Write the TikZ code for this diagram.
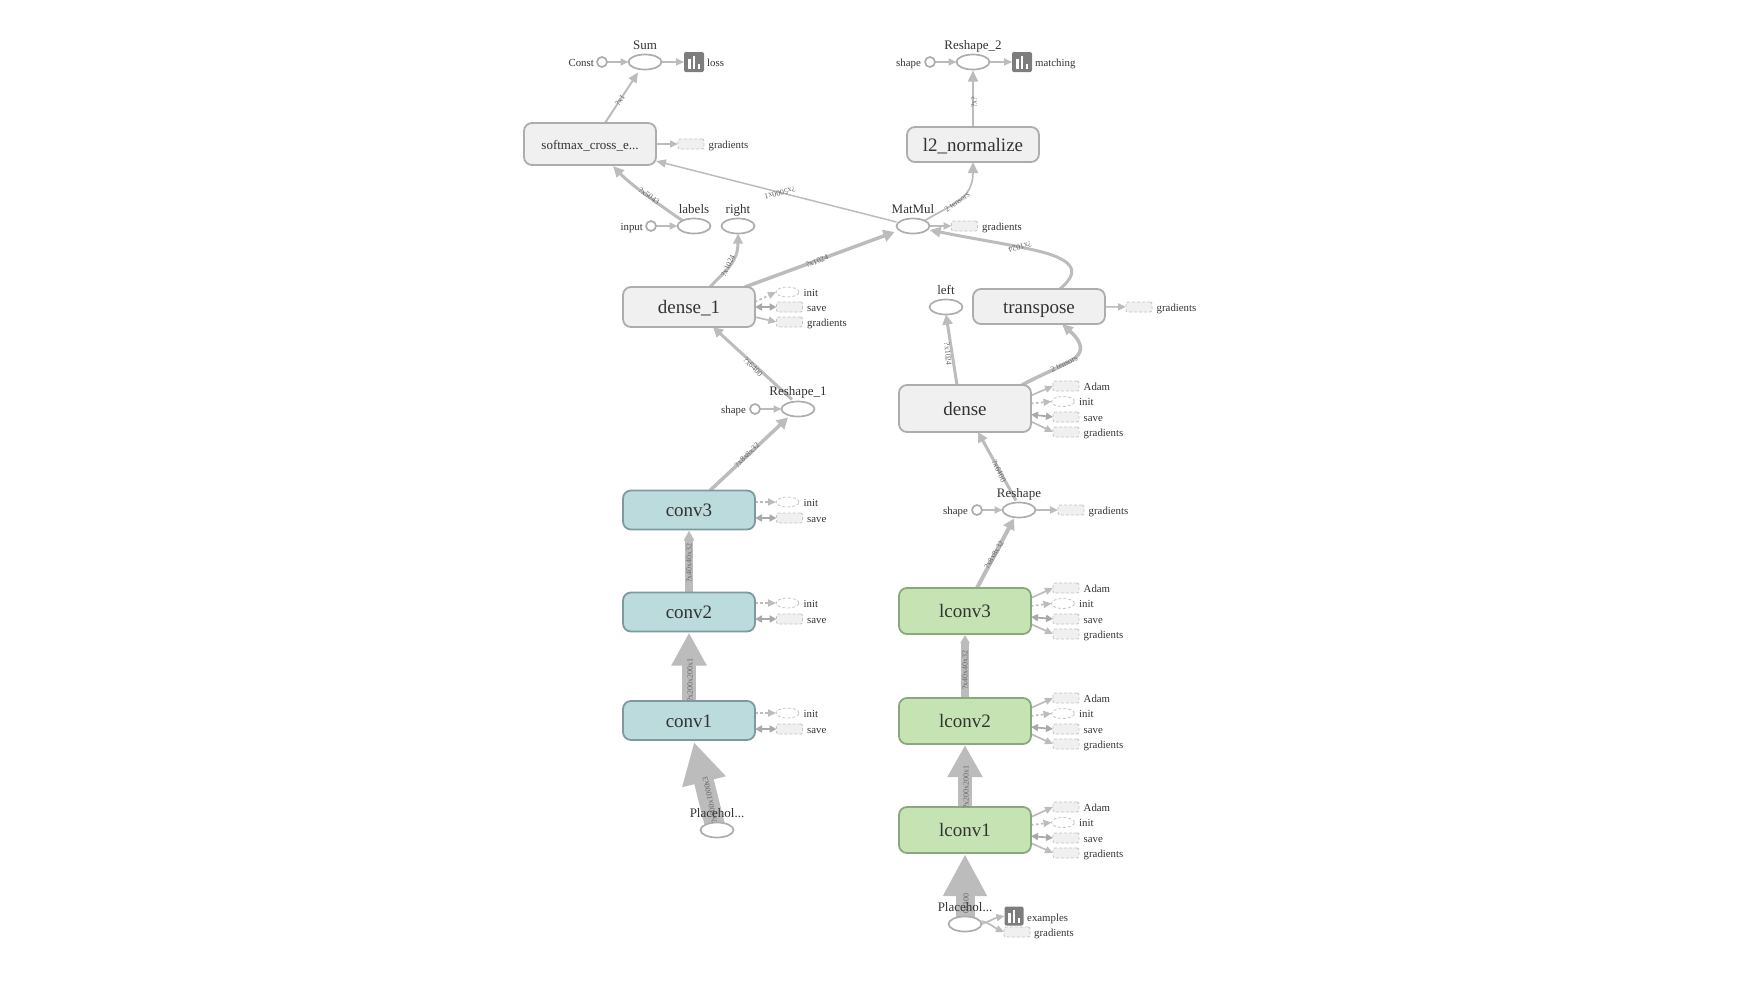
\documentclass[tikz,border=0pt]{standalone}
\usepackage{fontspec}
\setmainfont{Liberation Serif}
\usetikzlibrary{arrows.meta,shapes.geometric,calc}
\pgfdeclarelayer{bg}
\pgfsetlayers{bg,main}
\definecolor{edgec}{HTML}{BCBCBC}
\definecolor{strokec}{HTML}{ADADAD}
\definecolor{boxfill}{HTML}{F0F0F0}
\definecolor{convfill}{HTML}{BBDBDC}
\definecolor{convline}{HTML}{7E9A9C}
\definecolor{lconvfill}{HTML}{C5E3B3}
\definecolor{lconvline}{HTML}{8AA87C}
\definecolor{txtc}{HTML}{333333}
\definecolor{auxline}{HTML}{C4C4C4}
\definecolor{iconc}{HTML}{7D7D7D}
\tikzset{
  x=1pt,y=-1pt,
  box/.style={draw=strokec,fill=boxfill,line width=1.8pt,rounded corners=8pt,inner sep=0pt,outer sep=0pt,
     minimum width=132pt,text=txtc,font=\fontsize{19}{21}\selectfont,text height=17pt,text depth=4pt},
  boxs/.style={box,font=\fontsize{13}{15}\selectfont,text height=14pt,text depth=3.5pt},
  conv/.style={box,draw=convline,fill=convfill,minimum height=39pt},
  lconv/.style={box,draw=lconvline,fill=lconvfill,minimum height=46pt},
  oval/.style={ellipse,draw=strokec,fill=white,line width=1.7pt,minimum width=33pt,minimum height=15pt,inner sep=0pt,outer sep=0pt},
  dot/.style={circle,draw=strokec,fill=white,line width=1.7pt,minimum size=10pt,inner sep=0pt,outer sep=0pt},
  icon/.style={draw=none,fill=iconc,rounded corners=2pt,minimum size=20pt,inner sep=0pt,outer sep=0pt},
  auxrect/.style={draw=auxline,fill=boxfill,densely dashed,line width=.8pt,rounded corners=2pt,minimum width=26pt,minimum height=10pt,inner sep=0pt,outer sep=0pt},
  auxoval/.style={ellipse,draw=auxline,densely dashed,line width=.8pt,minimum width=23pt,minimum height=10pt,inner sep=0pt,outer sep=0pt},
  title/.style={text=txtc,font=\fontsize{13}{15}\selectfont,inner sep=0pt,text height=11pt,text depth=2.5pt},
  small/.style={text=txtc,font=\fontsize{10.8}{12}\selectfont,inner sep=0pt,text height=10pt,text depth=2pt},
  elab/.style={text=black!60,font=\fontsize{8}{9}\selectfont,inner sep=0pt},
  flow/.style n args={3}{draw=edgec,line width=#1,-{Triangle[length=#2,width=#3]}},
  thin flow/.style={flow={1.7pt}{8pt}{7pt}},
  dash flow/.style={thin flow,dash pattern=on 2.5pt off 2.5pt},
  both flow/.style={draw=edgec!90!black,line width=1.7pt,{Triangle[length=7pt,width=7pt]}-{Triangle[length=7pt,width=7pt]}},
}
\newcommand\iconbars[1]{%
  \fill[white] ($(#1.center)+(-6,7)$) rectangle ($(#1.center)+(-3.5,-3)$);
  \fill[white] ($(#1.center)+(-1.2,7)$) rectangle ($(#1.center)+(1.3,-6)$);
  \fill[white] ($(#1.center)+(3.6,7)$) rectangle ($(#1.center)+(6.1,2)$);
}
\newcommand\auxR[3]{\node[auxrect] (#1) at (#2) {};\node[small,anchor=west] (#1t) at ([xshift=4.5pt]#1.east) {#3};}
\newcommand\auxO[3]{\node[auxoval] (#1) at (#2) {};\node[small,anchor=west] (#1t) at ([xshift=4.5pt]#1.east) {#3};}
\newcommand\convside[3]{%
  \auxO{#1init}{787.5,#2}{init}
  \auxR{#1save}{789.5,#3}{save}
  \begin{pgfonlayer}{bg}
  \draw[dash flow] (#1.east |- #1init) -- (#1init.west);
  \draw[both flow] (#1.east |- #1save) -- (#1save.west);
  \end{pgfonlayer}}
\newcommand\lconvside[2]{%
  \pgfmathsetmacro\ya{#2}\pgfmathsetmacro\yb{#2+15.5}\pgfmathsetmacro\yc{#2+31}\pgfmathsetmacro\yd{#2+46}%
  \auxR{#1adam}{1066,\ya}{Adam}
  \auxO{#1init}{1063,\yb}{init}
  \auxR{#1save}{1066,\yc}{save}
  \auxR{#1grad}{1066,\yd}{gradients}
  \begin{pgfonlayer}{bg}
  \draw[thin flow,line width=1.7pt] ([yshift=13pt]#1.east) -- (#1adam.west);
  \draw[dash flow] ([yshift=5pt]#1.east) -- (#1init.west);
  \draw[both flow] ([yshift=-6pt]#1.east) -- (#1save.west);
  \draw[thin flow,line width=1.7pt] ([yshift=-13pt]#1.east) -- (#1grad.west);
  \end{pgfonlayer}}
\begin{document}
\begin{tikzpicture}
\useasboundingbox (0,0) rectangle (1741,997);

% ---------- main nodes ----------
\node[boxs,minimum height=42pt] (softmax) at (590,144) {softmax\_cross\_e...};
\node[box,minimum height=35pt] (l2) at (973,144.5) {l2\_normalize};
\node[box,minimum height=40pt] (dense1) at (689,307) {dense\_1};
\node[box,minimum height=35pt] (transpose) at (1039,306.5) {transpose};
\node[box,minimum height=47pt] (dense) at (965,408.5) {dense};
\node[conv] (conv3) at (689,510) {conv3};
\node[conv] (conv2) at (689,612) {conv2};
\node[conv] (conv1) at (689,720.5) {conv1};
\node[lconv] (lconv3) at (965,611) {lconv3};
\node[lconv] (lconv2) at (965,721) {lconv2};
\node[lconv] (lconv1) at (965,830) {lconv1};

% ---------- ops ----------
\node[oval] (sum) at (645,62) {};
\node[title] (sumt) at (645,45) {Sum};
\node[dot] (const) at (602,62) {};
\node[small,anchor=east] (constt) at (594,62) {Const};
\node[icon] (loss) at (694,62) {};
\iconbars{loss}
\node[small,anchor=west] (losst) at (707,62) {loss};

\node[oval] (resh2) at (973,62) {};
\node[title] (resh2t) at (973,45) {Reshape\_2};
\node[dot] (shape2) at (930,62) {};
\node[small,anchor=east] (shape2t) at (921,62) {shape};
\node[icon] (matching) at (1022,62) {};
\iconbars{matching}
\node[small,anchor=west] (matchingt) at (1035,62) {matching};

\node[oval] (labels) at (694,226) {};
\node[title] (labelst) at (694,209) {labels};
\node[dot] (input) at (651,226) {};
\node[small,anchor=east] (inputt) at (643,226) {input};
\node[oval] (right) at (738,226) {};
\node[title] (rightt) at (738,209) {right};
\node[oval] (matmul) at (913,226) {};
\node[title] (matmult) at (913,209) {MatMul};
\node[oval] (left) at (946,307) {};
\node[title] (leftt) at (946,290) {left};

\node[oval] (resh1) at (798,409) {};
\node[title] (resh1t) at (798,391) {Reshape\_1};
\node[dot] (shape1) at (755,409) {};
\node[small,anchor=east] (shape1t) at (746,409) {shape};

\node[oval] (resh) at (1019,510) {};
\node[title] (resht) at (1019,493) {Reshape};
\node[dot] (shape0) at (977,510) {};
\node[small,anchor=east] (shape0t) at (968,510) {shape};

\node[oval] (ph1) at (717,830) {};
\node[oval] (ph2) at (965,924) {};

% ---------- side nodes ----------
\auxR{softgrad}{691,144}{gradients}
\auxR{mmgrad}{964.5,226}{gradients}
\auxR{trgrad}{1139,307}{gradients}
\auxR{rsgrad}{1071,510}{gradients}
\auxO{d1init}{787.5,292}{init}
\auxR{d1save}{789.5,307}{save}
\auxR{d1grad}{789.5,322}{gradients}
\convside{conv3}{502}{518}
\convside{conv2}{603}{619}
\convside{conv1}{713}{729}
\lconvside{dense}{386}
\lconvside{lconv3}{588}
\lconvside{lconv2}{698}
\lconvside{lconv1}{807}
\node[icon,minimum size=19pt] (examples) at (1014,916) {};
\iconbars{examples}
\node[small,anchor=west] (examplest) at (1027,917) {examples};
\node[auxrect] (phgrad) at (1017,932) {};
\node[small,anchor=west] (phgradt) at (1034,932) {gradients};

% ---------- edges (behind nodes) ----------
\begin{pgfonlayer}{bg}
\draw[thin flow] (const) -- (sum);
\draw[thin flow] (sum) -- (loss);
\draw[thin flow] (shape2) -- (resh2);
\draw[thin flow] (resh2) -- (matching);
\draw[thin flow] (input) -- (labels);
\draw[thin flow] (shape1) -- (resh1);
\draw[thin flow] (shape0) -- (resh);
\draw[thin flow] (resh) -- (rsgrad);
\draw[thin flow] (softmax) -- (softgrad);
\draw[thin flow] (matmul) -- (mmgrad);
\draw[thin flow] (transpose) -- (trgrad);

\draw[flow={2pt}{10pt}{9pt}] ([xshift=15pt]softmax.north) -- ([xshift=-7pt,yshift=-3pt]sum.south);
\draw[flow={1.7pt}{11pt}{10pt}] (l2.north) -- ([yshift=-1pt]resh2.south);
\draw[flow={1.5pt}{10pt}{8pt}] ([yshift=4pt]matmul.west) -- ([yshift=4pt]softmax.south east);
\draw[flow={1.7pt}{11pt}{10pt}] (matmul.north east) .. controls (950,205) and (973,200) .. (l2.south);
\draw[flow={3pt}{11pt}{10pt}] ([xshift=-6pt,yshift=-6pt]labels.north) .. controls (660,205) and (632,186) .. ([xshift=23pt,yshift=-1pt]softmax.south);
\draw[flow={3pt}{10pt}{9pt}] ([xshift=21pt]dense1.north) .. controls (726,270) and (738,262) .. (right.south);
\draw[flow={3.5pt}{11pt}{12pt}] ([xshift=56pt]dense1.north) -- ([xshift=-2pt,yshift=-6pt]matmul.west);
\draw[flow={3pt}{11pt}{10pt}] ([xshift=21pt]transpose.north) .. controls (1070,280) and (1082,268) .. (1057,257) .. controls (1040,249) and (990,242) .. ([yshift=-4pt]matmul.east);
\draw[flow={3pt}{10pt}{10pt}] ([xshift=-8pt]dense.north) -- (left.south);
\draw[flow={3.5pt}{11pt}{10pt}] ([xshift=57pt]dense.north) .. controls (1040,375) and (1064,366) .. (1075,358) .. controls (1085,350) and (1080,340) .. ([xshift=23pt]transpose.south);
\draw[flow={3pt}{10pt}{10pt}] ([xshift=-6pt,yshift=2pt]resh1.north) -- ([xshift=24pt]dense1.south);
\draw[flow={3.5pt}{11pt}{12pt}] ([xshift=21pt]conv3.north) -- ([xshift=-10pt,yshift=-1pt]resh1.south);
\draw[flow={3pt}{10pt}{10pt}] ([xshift=-3pt,yshift=2pt]resh.north) -- ([xshift=13pt]dense.south);
\draw[flow={4pt}{11pt}{12pt}] ([xshift=12pt]lconv3.north) -- ([xshift=-5pt,yshift=-1pt]resh.south);
\draw[flow={7.5pt}{10pt}{10pt}] (conv2.north) -- ([yshift=-1pt]conv3.south);
\draw[flow={13.5pt}{33pt}{33pt}] (conv1.north) -- ([yshift=-1pt]conv2.south);
\draw[flow={20pt}{41pt}{42pt}] ([xshift=-2pt,yshift=-3pt]ph1.north) -- ([xshift=5pt,yshift=-2pt]conv1.south);
\draw[flow={7.5pt}{8pt}{9pt}] (lconv2.north) -- ([yshift=-1pt]lconv3.south);
\draw[flow={14.5pt}{32pt}{33pt}] (lconv1.north) -- ([yshift=-1pt]lconv2.south);
\draw[flow={19pt}{42pt}{41pt}] (ph2.north) -- ([yshift=-1pt]lconv1.south);

\draw[dash flow] ([yshift=5pt]dense1.east) -- (d1init.west);
\draw[both flow] (dense1.east) -- (d1save.west);
\draw[thin flow] ([yshift=-10pt]dense1.east) -- (d1grad.west);
\draw[thin flow] (ph2.east) .. controls (988,922) and (995,918) .. (examples.west);
\draw[thin flow] ([yshift=3pt]ph2.east) .. controls (988,922) and (995,928) .. (phgrad.west);
\end{pgfonlayer}

% ---------- edge labels ----------
\node[elab,rotate=55] (la) at (620,100) {?x1};
\node[elab,rotate=90] (lb) at (974,102) {?x?};
\node[elab,rotate=-36] (lc) at (649,196) {?x5043};
\node[elab,rotate=194] (ld) at (780,193) {?x5000x1};
\node[elab,rotate=65] (le) at (728,266) {?x1024};
\node[elab,rotate=22] (lf) at (817,261) {?x1024};
\node[elab,rotate=35] (lg) at (957,202) {2 tensors};
\node[elab,rotate=195] (lh) at (1020,247) {?x1024};
\node[elab,rotate=-85] (li) at (948,354) {?x1024};
\node[elab,rotate=25] (lj) at (1064,364) {2 tensors};
\node[elab,rotate=-45] (lk) at (753,367) {?x6400};
\node[elab,rotate=45] (ll) at (747,455) {?x8x8x32};
\node[elab,rotate=-65] (lm) at (999,471) {?x6400};
\node[elab,rotate=60] (ln) at (994,555) {?x8x8x32};
\node[elab,rotate=90] (lo) at (689,563) {?x40x40x32};
\node[elab,rotate=90] (lp) at (690,680) {?x200x200x1};
\node[elab,rotate=102] (lq) at (710,800) {?x600x1000x3};
\node[elab,rotate=90] (lr) at (965,670) {?x40x40x32};
\node[elab,rotate=90] (ls) at (966,787) {?x200x200x1};
\node[elab,rotate=90] (lt) at (966,903) {0x100};

% ---------- placeholder titles over arrows ----------
\node[title] (ph1t) at (717,813) {Placehol...};
\node[title] (ph2t) at (965,907) {Placehol...};
\end{tikzpicture}
\end{document}
